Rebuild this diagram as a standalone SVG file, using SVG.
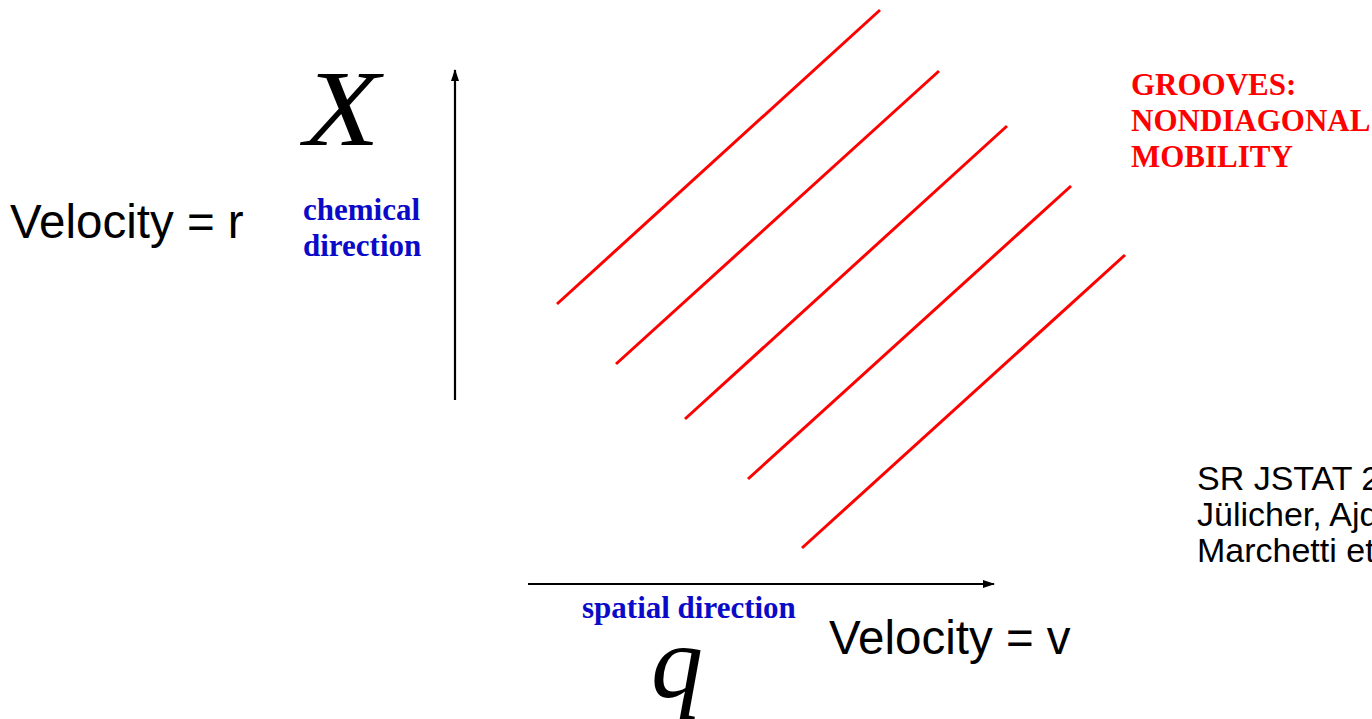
<svg xmlns="http://www.w3.org/2000/svg" width="1372" height="719" viewBox="0 0 1372 719">
<defs>
<style>
.sans{font-family:"Liberation Sans",Arial,sans-serif;fill:#000;font-size:47.5px}
.lbl{font-family:"Liberation Serif","Times New Roman",serif;font-weight:bold;font-size:31px}
.blue{fill:#0a0ac8}
.red{fill:#ff0000}
.math{font-family:"Liberation Serif","Times New Roman",serif;font-style:italic;font-size:108px;fill:#000}
.cite{font-family:"Liberation Sans",Arial,sans-serif;font-size:34px;fill:#000}
.groove{stroke:#ff0000;stroke-width:3;fill:none}
.axis{stroke:#000;stroke-width:2.2;fill:none}
</style>
<marker id="ah" viewBox="0 0 12 8" refX="11" refY="4" markerWidth="12" markerHeight="8" markerUnits="userSpaceOnUse" orient="auto">
<path d="M0,0 L12,4 L0,8 Z" fill="#000"/>
</marker>
</defs>
<rect width="1372" height="719" fill="#fff"/>
<g id="connectors">
<line class="axis" x1="455" y1="400" x2="455" y2="70" marker-end="url(#ah)"/>
<line class="axis" x1="528" y1="584" x2="994" y2="584" marker-end="url(#ah)"/>
</g>
<g id="grooves">
<line class="groove" x1="557" y1="304" x2="880" y2="10"/>
<line class="groove" x1="616" y1="364" x2="939" y2="71"/>
<line class="groove" x1="685" y1="419" x2="1007" y2="126"/>
<line class="groove" x1="748" y1="479" x2="1071" y2="186"/>
<line class="groove" x1="802" y1="548" x2="1125" y2="255"/>
</g>
<g id="x-label"><text class="math" transform="translate(304,145) scale(1.15,1)" x="0" y="0">X</text></g>
<g id="velocity-r"><text class="sans" x="10" y="238">Velocity = r</text></g>
<g id="chemical-direction"><text class="lbl blue" x="303" y="220">chemical</text><text class="lbl blue" x="303" y="256">direction</text></g>
<g id="grooves-label"><text class="lbl red" x="1131" y="95">GROOVES:</text><text class="lbl red" x="1131" y="131">NONDIAGONAL</text><text class="lbl red" x="1131" y="167">MOBILITY</text></g>
<g id="spatial-direction"><text class="lbl blue" x="582" y="618">spatial direction</text></g>
<g id="velocity-v"><text class="sans" x="829" y="654">Velocity = v</text></g>
<g id="q-label"><text class="math" x="651" y="697" style="font-size:104px">q</text></g>
<g id="citation"><text class="cite" x="1197" y="490">SR JSTAT 2</text><text class="cite" x="1197" y="526">Jülicher, Ajd</text><text class="cite" x="1197" y="562">Marchetti et</text></g>
</svg>
